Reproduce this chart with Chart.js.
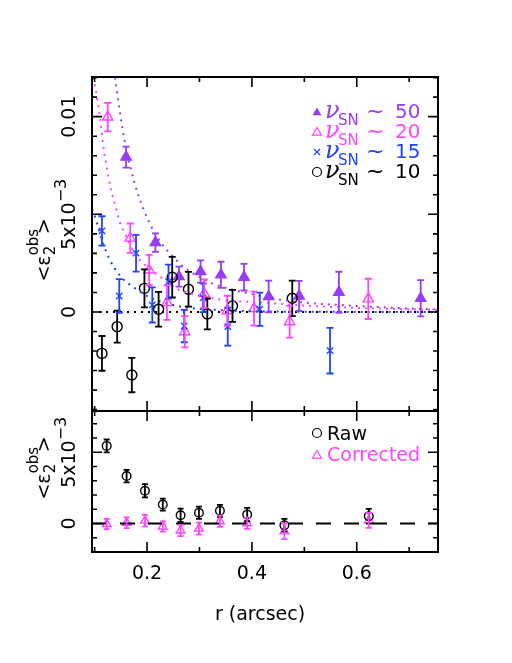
<!DOCTYPE html>
<html>
<head>
<meta charset="utf-8">
<title>e2 obs vs r</title>
<script src="https://cdn.jsdelivr.net/npm/chart.js@4.4.1/dist/chart.umd.min.js"></script>
<style>
  body { margin: 0; background: #fff; }
  #wrap { position: relative; width: 512px; height: 663px; }
  #wrap canvas { position: absolute; left: 0; top: 0; }
</style>
</head>
<body>
<div id="wrap">
  <canvas id="haut" width="512" height="663"></canvas>
  <canvas id="bas" width="512" height="663"></canvas>
</div>
<script>
// Valeurs, en unités de 1e-3
const xMin = 0.095, xMax = 0.755;

// Panneau du haut : nu_SN ~ 50 / 20 / 15 / 10
const r50 = [0.160, 0.216, 0.261, 0.302, 0.341, 0.385, 0.432, 0.490, 0.566, 0.722];
const e50 = [7.93, 3.55, 1.81, 2.07, 1.90, 1.78, 0.79, 0.82, 1.01, 0.70];
const s50 = [0.54, 0.47, 0.51, 0.57, 0.67, 0.68, 0.81, 0.77, 1.05, 0.93];

const r20 = [0.125, 0.168, 0.204, 0.238, 0.272, 0.309, 0.353, 0.404, 0.472, 0.622];
const e20 = [9.98, 3.78, 2.15, 0.48, -1.01, 0.94, 0.06, 0.17, -0.50, 0.67];
const s20 = [0.73, 0.75, 0.77, 0.88, 0.80, 0.73, 0.77, 0.87, 0.81, 1.03];

const r15 = [0.114, 0.147, 0.179, 0.210, 0.241, 0.271, 0.307, 0.354, 0.415, 0.549];
const e15 = [4.15, 0.82, 3.01, 0.36, 1.55, -0.72, 0.72, -0.75, 0.14, -1.98];
const s15 = [0.75, 0.86, 0.94, 0.90, 0.87, 0.83, 0.73, 0.97, 0.85, 1.17];

const r10 = [0.114, 0.143, 0.171, 0.195, 0.222, 0.248, 0.279, 0.315, 0.363, 0.477];
const e10 = [-2.12, -0.75, -3.23, 1.21, 0.14, 1.78, 1.16, -0.10, 0.31, 0.70];
const s10 = [0.89, 0.82, 0.88, 0.97, 0.89, 1.04, 0.89, 0.79, 0.82, 0.91];

// Courbes d'ajustement (pointillés)
const fit50R = [0.139, 0.153, 0.168, 0.183, 0.204, 0.225, 0.247, 0.275, 0.300, 0.325, 0.370, 0.450, 0.500, 0.600, 0.680, 0.755];
const fit50E = [12.0, 9.4, 7.45, 6.0, 4.6, 3.6, 2.9, 2.2, 1.8, 1.45, 1.1, 0.65, 0.48, 0.31, 0.20, 0.13];
const fit20R = [0.098, 0.102, 0.106, 0.1105, 0.117, 0.123, 0.1295, 0.139, 0.1486, 0.157, 0.174, 0.190, 0.209, 0.235, 0.260, 0.300, 0.336, 0.420, 0.555, 0.650, 0.755];
const fit20E = [12.0, 11.4, 10.7, 9.9, 8.4, 7.45, 6.45, 5.5, 4.55, 4.05, 3.1, 2.55, 2.15, 1.6, 1.15, 0.85, 0.65, 0.48, 0.25, 0.17, 0.10];
const fit15R = [0.095, 0.0977, 0.104, 0.115, 0.1276, 0.1486, 0.177, 0.209, 0.240, 0.272, 0.350, 0.447, 0.755];
const fit15E = [5.25, 5.1, 4.6, 3.6, 2.75, 1.85, 1.21, 0.70, 0.42, 0.24, 0.08, 0.02, 0.0];

// Panneau du bas : brut / corrigé
const rB = [0.123, 0.161, 0.196, 0.230, 0.264, 0.299, 0.339, 0.391, 0.462, 0.623];
const raw = [5.45, 3.33, 2.30, 1.33, 0.58, 0.75, 0.89, 0.63, -0.12, 0.51];
const rawErr = [0.45, 0.44, 0.46, 0.42, 0.46, 0.43, 0.42, 0.47, 0.45, 0.52];
const corr = [-0.03, 0.05, 0.20, -0.21, -0.49, -0.36, 0.16, 0.02, -0.55, 0.22];
const corrErr = [0.36, 0.38, 0.40, 0.36, 0.40, 0.42, 0.40, 0.40, 0.55, 0.52];

// Graduations
const xMinor = [0.1, 0.2, 0.3, 0.4, 0.5, 0.6, 0.7];
const xMajor = [0.2, 0.4, 0.6];
const xLabels = ['0.2', '0.4', '0.6'];
const yHautMinor = [-5, -4, -3, -2, -1, 0, 1, 2, 3, 4, 5, 6, 7, 8, 9, 10, 11, 12];
const yHautMajor = [0, 5, 10];
const yBasMinor = [-2, -1, 0, 1, 2, 3, 4, 5, 6, 7];
const yBasMajor = [0, 5];

const PURPLE = '#9a3cf5', PINK = '#ff44ff', BLUE = '#1f44ff', BLACK = '#000000';
const FONT = '"DejaVu Sans", sans-serif';

function serie(rs, vals, errs, color, style, radius, filled, cap) {
    return {
        type: 'scatter',
        data: rs.map((r, i) => ({ x: r, y: vals[i] })),
        errors: errs,
        cap: cap,
        pointStyle: style,
        pointRadius: radius,
        pointBorderColor: color,
        pointBackgroundColor: filled ? color : 'rgba(0,0,0,0)',
        pointBorderWidth: 1.4,
        borderColor: color,
        showLine: false
    };
}

function courbe(rs, vals, color, dash) {
    return {
        type: 'scatter',
        data: rs.map((r, i) => ({ x: r, y: vals[i] })),
        showLine: true,
        borderColor: color,
        borderWidth: 2,
        borderDash: dash,
        pointRadius: 0,
        fill: false,
        cubicInterpolationMode: 'monotone'
    };
}

// Barres d'erreur verticales avec chapeaux
const barresErreur = {
    id: 'barresErreur',
    afterDatasetsDraw(chart) {
        const ctx = chart.ctx, sy = chart.scales.y;
        chart.data.datasets.forEach((ds, i) => {
            if (!ds.errors) return;
            const meta = chart.getDatasetMeta(i);
            ctx.save();
            ctx.strokeStyle = ds.borderColor;
            ctx.lineWidth = 1.8;
            ctx.beginPath();
            meta.data.forEach((pt, j) => {
                const v = ds.data[j].y, e = ds.errors[j];
                const y1 = sy.getPixelForValue(v + e), y2 = sy.getPixelForValue(v - e);
                ctx.moveTo(pt.x, y1); ctx.lineTo(pt.x, y2);
                ctx.moveTo(pt.x - ds.cap, y1); ctx.lineTo(pt.x + ds.cap, y1);
                ctx.moveTo(pt.x - ds.cap, y2); ctx.lineTo(pt.x + ds.cap, y2);
            });
            ctx.stroke();
            ctx.restore();
        });
    }
};

// Texte vertical (lu de bas en haut) ; parts = [{t, size, dy, dx}]
function texteVertical(ctx, x, y, parts) {
    ctx.save();
    ctx.translate(x, y);
    ctx.rotate(-Math.PI / 2);
    let total = 0;
    parts.forEach(p => {
        ctx.font = p.size + 'px ' + FONT;
        p.w = ctx.measureText(p.t).width;
        if (!p.stack) total += p.w;
    });
    let pos = -total / 2;
    parts.forEach(p => {
        ctx.font = p.size + 'px ' + FONT;
        ctx.fillText(p.t, pos, p.dy || 0);
        if (!p.stack) pos += p.w;
    });
    ctx.restore();
}

function titreY(ctx, x, y) {
    texteVertical(ctx, x, y, [
        { t: '<\u03b5', size: 19 },
        { t: 'obs', size: 15, dy: -12, stack: true },
        { t: '2', size: 15, dy: 5 },
        { t: '   ', size: 12 },
        { t: '>', size: 19 }
    ]);
}

function etiquetteY(ctx, x, y, lab) {
    if (lab === '5x10') {
        texteVertical(ctx, x, y, [{ t: '5x10', size: 19 }, { t: '\u22123', size: 16, dy: -9 }]);
    } else {
        texteVertical(ctx, x, y, [{ t: lab, size: 19 }]);
    }
}

// Cadre, graduations vers l'intérieur et étiquettes
function cadre(cfg) {
    return {
        id: 'cadre',
        afterDraw(chart) {
            const ctx = chart.ctx, a = chart.chartArea, sx = chart.scales.x, sy = chart.scales.y;
            ctx.save();
            ctx.strokeStyle = '#000';
            ctx.lineWidth = 1.6;
            ctx.beginPath();
            xMinor.forEach(v => {
                const p = sx.getPixelForValue(v), L = xMajor.includes(v) ? 10 : 5;
                ctx.moveTo(p, a.top); ctx.lineTo(p, a.top + L);
                ctx.moveTo(p, a.bottom); ctx.lineTo(p, a.bottom - L);
            });
            cfg.yMinor.forEach(v => {
                const p = sy.getPixelForValue(v), L = cfg.yMajor.includes(v) ? 10 : 5;
                ctx.moveTo(a.left, p); ctx.lineTo(a.left + L, p);
                ctx.moveTo(a.right, p); ctx.lineTo(a.right - L, p);
            });
            ctx.stroke();
            ctx.lineWidth = 2;
            ctx.strokeRect(a.left, a.top, a.right - a.left, a.bottom - a.top);

            ctx.fillStyle = '#000';
            ctx.textBaseline = 'alphabetic';
            cfg.yLabels.forEach((lab, i) => {
                etiquetteY(ctx, 75, sy.getPixelForValue(cfg.yMajor[i]), lab);
            });
            titreY(ctx, 50, cfg.titreY);
            if (cfg.axeX) {
                ctx.font = '19px ' + FONT;
                ctx.textAlign = 'center';
                xMajor.forEach((v, i) => ctx.fillText(xLabels[i], sx.getPixelForValue(v), 579));
                ctx.fillText('r (arcsec)', 260, 620);
            }
            ctx.restore();
            if (cfg.legende) cfg.legende(ctx);
        }
    };
}

function marque(ctx, type, x, y, color) {
    ctx.save();
    ctx.strokeStyle = color; ctx.fillStyle = color; ctx.lineWidth = 1.2;
    ctx.beginPath();
    if (type === 'triFill' || type === 'tri') {
        ctx.moveTo(x, y - 4.5); ctx.lineTo(x + 4.5, y + 3.2); ctx.lineTo(x - 4.5, y + 3.2); ctx.closePath();
        if (type === 'triFill') ctx.fill(); else ctx.stroke();
    } else if (type === 'cross') {
        ctx.moveTo(x - 3, y - 3); ctx.lineTo(x + 3, y + 3);
        ctx.moveTo(x + 3, y - 3); ctx.lineTo(x - 3, y + 3);
        ctx.stroke();
    } else {
        ctx.arc(x, y, 4.5, 0, Math.PI * 2); ctx.stroke();
    }
    ctx.restore();
}

function legendeHaut(ctx) {
    const rows = [
        { m: 'triFill', c: PURPLE, v: '50' },
        { m: 'tri', c: PINK, v: '20' },
        { m: 'cross', c: BLUE, v: '15' },
        { m: 'circle', c: BLACK, v: '10' }
    ];
    rows.forEach((row, i) => {
        const base = 118 + i * 20;
        marque(ctx, row.m, 317, base - 6, row.c);
        ctx.save();
        ctx.fillStyle = row.c;
        ctx.font = 'italic 24px "DejaVu Serif", serif';
        ctx.fillText('\u03bd', 325, base);
        ctx.font = '15px ' + FONT;
        ctx.fillText('SN', 338, base + 7);
        ctx.font = '22px ' + FONT;
        ctx.fillText('~', 366, base);
        ctx.font = '20px ' + FONT;
        ctx.fillText(row.v, 395, base);
        ctx.restore();
    });
}

function legendeBas(ctx) {
    marque(ctx, 'circle', 317, 433, BLACK);
    marque(ctx, 'tri', 317, 455, PINK);
    ctx.save();
    ctx.font = '19px ' + FONT;
    ctx.fillStyle = BLACK;
    ctx.fillText('Raw', 327, 440);
    ctx.fillStyle = PINK;
    ctx.fillText('Corrected', 327, 461);
    ctx.restore();
}

function options(pad, yMin, yMax) {
    return {
        responsive: false,
        animation: false,
        devicePixelRatio: 1,
        layout: { padding: pad },
        plugins: { legend: { display: false }, tooltip: { enabled: false } },
        scales: {
            x: { type: 'linear', min: xMin, max: xMax, display: false },
            y: { type: 'linear', min: yMin, max: yMax, display: false }
        }
    };
}

document.addEventListener('DOMContentLoaded', function() {
    // Panneau du haut
    new Chart(document.getElementById('haut'), {
        type: 'scatter',
        data: {
            datasets: [
                courbe([xMin, xMax], [0, 0], BLACK, [2, 5]),
                courbe(fit50R, fit50E, PURPLE, [2, 5]),
                courbe(fit20R, fit20E, PINK, [2, 5]),
                courbe(fit15R, fit15E, BLUE, [2, 5]),
                serie(r10, e10, s10, BLACK, 'circle', 5, false, 3.5),
                serie(r15, e15, s15, BLUE, 'crossRot', 4.5, false, 3.5),
                serie(r20, e20, s20, PINK, 'triangle', 6, false, 3.5),
                serie(r50, e50, s50, PURPLE, 'triangle', 6, true, 3.5)
            ]
        },
        options: options({ left: 92, right: 74, top: 77, bottom: 252 }, -5.07, 12.03),
        plugins: [barresErreur, cadre({
            yMinor: yHautMinor, yMajor: yHautMajor,
            yLabels: ['0', '5x10', '0.01'],
            titreY: 250, axeX: false, legende: legendeHaut
        })]
    });

    // Panneau du bas
    new Chart(document.getElementById('bas'), {
        type: 'scatter',
        data: {
            datasets: [
                courbe([xMin, xMax], [0, 0], BLACK, [15, 13]),
                serie(rB, raw, rawErr, BLACK, 'circle', 4.3, false, 3),
                serie(rB, corr, corrErr, PINK, 'triangle', 5, false, 3)
            ]
        },
        options: options({ left: 92, right: 74, top: 411, bottom: 111 }, -2.0, 7.9),
        plugins: [barresErreur, cadre({
            yMinor: yBasMinor, yMajor: yBasMajor,
            yLabels: ['0', '5x10'],
            titreY: 468, axeX: true, legende: legendeBas
        })]
    });
});
</script>
</body>
</html>
